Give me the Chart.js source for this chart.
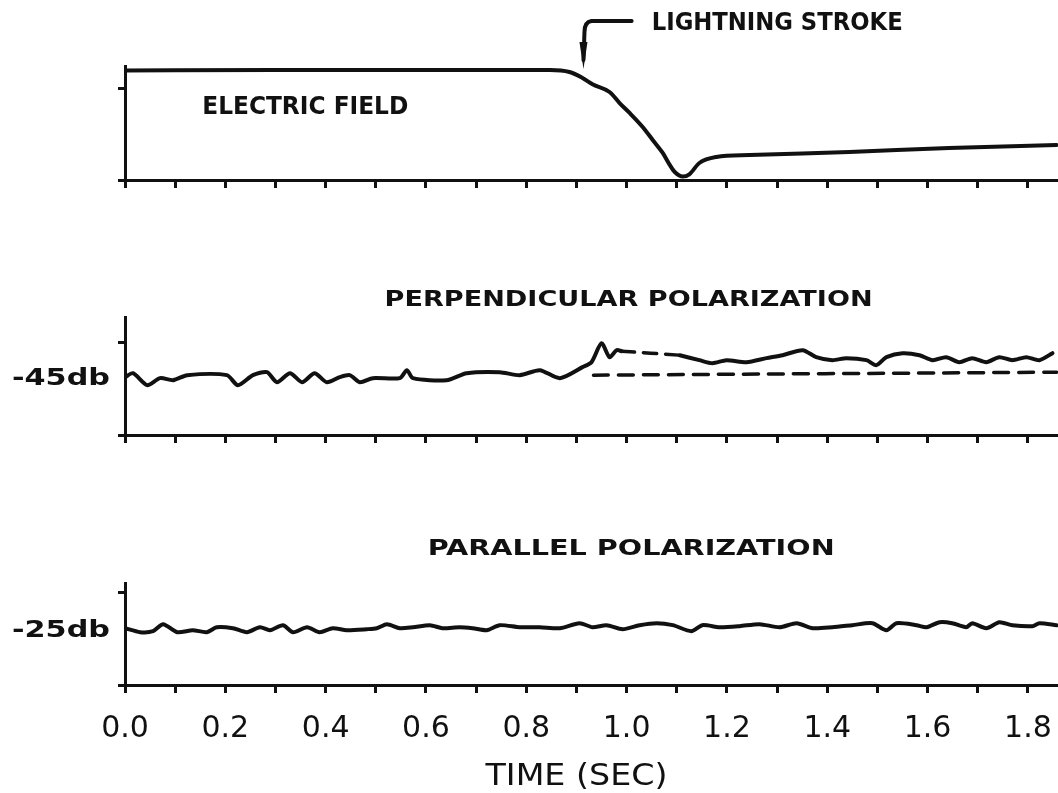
<!DOCTYPE html>
<html>
<head>
<meta charset="utf-8">
<title>Electric field and polarization</title>
<script src="https://cdn.jsdelivr.net/npm/chart.js@4.4.1/dist/chart.umd.min.js"></script>
<style>
  html, body { margin: 0; padding: 0; background: #fff; }
  #wrap { position: relative; width: 1058px; height: 793px; overflow: hidden; background: #fff; }
  canvas { position: absolute; left: 0; }
</style>
</head>
<body>
<div id="wrap">
  <canvas id="field" width="1058" height="200" style="top:0px"></canvas>
  <canvas id="perp" width="1058" height="205" style="top:250px"></canvas>
  <canvas id="para" width="1058" height="293" style="top:500px"></canvas>
</div>
<script>
// time axis (sec)
const timeTicks = [0.0, 0.1, 0.2, 0.3, 0.4, 0.5, 0.6, 0.7, 0.8, 0.9, 1.0, 1.1, 1.2, 1.3, 1.4, 1.5, 1.6, 1.7, 1.8];
const timeLabels = ['0.0', '0.2', '0.4', '0.6', '0.8', '1.0', '1.2', '1.4', '1.6', '1.8'];
const timeMax = 1.86;

// electric field, relative units (0 = axis)
const fieldTimes = [0, 0.3, 0.6, 0.847, 0.886, 0.912, 0.932, 0.966, 0.986, 1.006, 1.032, 1.052, 1.072, 1.086, 1.096, 1.112, 1.125, 1.145, 1.179, 1.245, 1.444, 1.643, 1.857];
const fieldValues = [96.0, 96.5, 96.5, 96.5, 94.7, 89.5, 84.0, 77.2, 67.5, 58.8, 46.5, 35.1, 23.7, 13.2, 7.0, 3.0, 5.0, 14.9, 20.2, 21.9, 24.6, 28.1, 30.7];
const fieldTicks = [0, 80.7];

// perpendicular polarization (db)
const perpTimes = [0, 0.016, 0.044, 0.070, 0.096, 0.124, 0.203, 0.225, 0.255, 0.283, 0.303, 0.329, 0.353, 0.378, 0.402, 0.428, 0.448, 0.468, 0.494, 0.548, 0.562, 0.574, 0.641, 0.681, 0.747, 0.787, 0.827, 0.867, 0.912, 0.930, 0.950, 0.966, 0.980, 0.990];
const perpValues = [-44.86, -44.31, -45.97, -45.0, -45.28, -44.58, -44.58, -45.97, -44.58, -44.17, -45.56, -44.31, -45.56, -44.31, -45.56, -44.86, -44.58, -45.56, -45.0, -45.0, -43.89, -45.0, -45.28, -44.31, -44.17, -44.58, -43.89, -45.0, -43.47, -42.78, -40.14, -42.08, -41.11, -41.25];
const perpGapTimes = [0.990, 1.106];
const perpGapValues = [-41.25, -41.81];
const perpLateTimes = [1.106, 1.145, 1.171, 1.199, 1.239, 1.279, 1.311, 1.351, 1.378, 1.410, 1.438, 1.478, 1.498, 1.518, 1.550, 1.584, 1.610, 1.637, 1.663, 1.689, 1.717, 1.743, 1.769, 1.797, 1.823, 1.849];
const perpLateValues = [-41.81, -42.5, -42.92, -42.5, -42.78, -42.22, -41.81, -41.11, -42.08, -42.5, -42.22, -42.5, -43.19, -42.08, -41.53, -41.81, -42.5, -42.08, -42.78, -42.22, -42.78, -42.08, -42.5, -42.08, -42.5, -41.53];
const perpBaseTimes = [0.934, 1.857];
const perpBaseValues = [-44.58, -44.17];
const perpTicks = [-52.9, -40];

// parallel polarization (db)
const paraTimes = [0, 0.030, 0.056, 0.076, 0.104, 0.135, 0.163, 0.183, 0.215, 0.243, 0.269, 0.289, 0.315, 0.335, 0.363, 0.388, 0.414, 0.442, 0.482, 0.502, 0.522, 0.548, 0.574, 0.608, 0.633, 0.667, 0.693, 0.721, 0.747, 0.787, 0.827, 0.867, 0.906, 0.932, 0.960, 0.992, 1.026, 1.060, 1.092, 1.129, 1.151, 1.185, 1.225, 1.265, 1.305, 1.339, 1.371, 1.410, 1.450, 1.490, 1.518, 1.538, 1.578, 1.598, 1.624, 1.649, 1.677, 1.689, 1.717, 1.743, 1.769, 1.809, 1.823, 1.857];
const paraValues = [-24.74, -25.26, -25.13, -24.21, -25.26, -25.0, -25.26, -24.61, -24.74, -25.26, -24.61, -25.0, -24.34, -25.26, -24.61, -25.26, -24.74, -25.0, -24.87, -24.74, -24.21, -24.74, -24.61, -24.34, -24.74, -24.61, -24.74, -25.0, -24.34, -24.61, -24.61, -24.74, -24.08, -24.61, -24.34, -24.87, -24.34, -24.08, -24.34, -25.13, -24.34, -24.61, -24.47, -24.21, -24.61, -24.08, -24.74, -24.61, -24.34, -24.08, -25.0, -24.08, -24.34, -24.61, -23.95, -24.08, -24.61, -24.08, -24.74, -23.95, -24.34, -24.47, -24.08, -24.34];
const paraTicks = [-32.2, -20];

const black = '#111';
const pts = (ts, vs) => ts.map((t, i) => ({ x: t, y: vs[i] }));

const trace = (ts, vs, dash) => ({
  data: pts(ts, vs),
  borderColor: black,
  borderWidth: dash ? 3.5 : 4,
  borderDash: dash || [],
  borderCapStyle: 'round',
  borderJoinStyle: 'round',
  tension: 0.25,
  pointRadius: 0,
  fill: false
});

// draw text stretched or squeezed to a given width
const stretchText = (ctx, text, x, y, width, align) => {
  const natural = ctx.measureText(text).width;
  const left = align === 'center' ? x - width / 2 : align === 'right' ? x - width : x;
  ctx.save();
  ctx.translate(left, y);
  ctx.scale(width / natural, 1);
  ctx.textAlign = 'left';
  ctx.fillText(text, 0, 0);
  ctx.restore();
};

const notes = draw => ({
  id: 'notes',
  afterDraw: chart => {
    const ctx = chart.ctx;
    ctx.save();
    ctx.fillStyle = black;
    ctx.strokeStyle = black;
    ctx.textBaseline = 'middle';
    draw(ctx, chart.scales.x, chart.scales.y, chart.chartArea);
    ctx.restore();
  }
});

const makeOptions = cfg => ({
  responsive: false,
  animation: false,
  layout: { padding: { top: cfg.padTop, left: 0, right: 0, bottom: 0 } },
  plugins: { legend: { display: false }, tooltip: { enabled: false }, title: { display: false } },
  scales: {
    x: {
      type: 'linear',
      min: 0,
      max: timeMax,
      afterBuildTicks: scale => { scale.ticks = timeTicks.map(v => ({ value: v })); },
      afterFit: scale => {
        scale.height = cfg.xHeight;
        scale.paddingLeft = 0;
        scale.paddingRight = 0;
      },
      border: { display: true, color: black, width: 3 },
      grid: { drawOnChartArea: false, drawTicks: true, tickLength: 8, color: black, lineWidth: 3 },
      ticks: {
        display: cfg.timeLabels,
        autoSkip: false,
        maxRotation: 0,
        padding: 18,
        color: black,
        font: { family: 'DejaVu Sans', size: 30 },
        callback: (v, i) => (i % 2 === 0 ? timeLabels[i / 2] : '')
      }
    },
    y: {
      min: cfg.yMin,
      max: cfg.yMax,
      afterBuildTicks: scale => { scale.ticks = cfg.yTicks.map(v => ({ value: v })); },
      afterFit: scale => { scale.width = 125; },
      border: { display: true, color: black, width: 3 },
      grid: { drawOnChartArea: false, drawTicks: true, tickLength: 7, lineWidth: 3, color: black },
      ticks: { display: false }
    }
  }
});

// level label at the left of the y axis
const levelLabel = (ctx, y, area, value, text) => {
  ctx.font = 'bold 23px "DejaVu Sans"';
  stretchText(ctx, text, area.left - 15, y.getPixelForValue(value) + 1, 98, 'right');
};

// electric field
new Chart(document.getElementById('field'), {
  type: 'line',
  data: { datasets: [Object.assign(trace(fieldTimes, fieldValues), { cubicInterpolationMode: 'monotone' })] },
  options: makeOptions({ padTop: 66, xHeight: 20, yMin: 0, yMax: 100, yTicks: fieldTicks, timeLabels: false }),
  plugins: [notes((ctx, x, y, area) => {
    ctx.font = 'bold 25px "DejaVu Sans"';
    stretchText(ctx, 'ELECTRIC FIELD', x.getPixelForValue(0.154), y.getPixelForValue(63.6), 206, 'left');
    ctx.font = 'bold 24px "DejaVu Sans"';
    stretchText(ctx, 'LIGHTNING STROKE', x.getPixelForValue(1.05), area.top - 42, 251, 'left');
    // arrow pointing at the stroke onset
    const ax = x.getPixelForValue(0.914);
    ctx.lineWidth = 4;
    ctx.lineCap = 'round';
    ctx.lineJoin = 'round';
    ctx.beginPath();
    ctx.moveTo(x.getPixelForValue(1.01), area.top - 45);
    ctx.lineTo(ax + 8, area.top - 45);
    ctx.quadraticCurveTo(ax + 1, area.top - 44, ax + 1, area.top - 34);
    ctx.lineTo(ax, area.top - 6);
    ctx.stroke();
    ctx.beginPath();
    ctx.moveTo(ax - 4, area.top - 24);
    ctx.lineTo(ax + 4, area.top - 24);
    ctx.lineTo(ax, area.top + 3);
    ctx.closePath();
    ctx.fill();
  })]
});

// perpendicular polarization
new Chart(document.getElementById('perp'), {
  type: 'line',
  data: {
    datasets: [
      trace(perpTimes, perpValues),
      trace(perpGapTimes, perpGapValues, [13, 9]),
      trace(perpLateTimes, perpLateValues),
      trace(perpBaseTimes, perpBaseValues, [15, 10])
    ]
  },
  options: makeOptions({ padTop: 67, xHeight: 20, yMin: -52.9, yMax: -36.5, yTicks: perpTicks, timeLabels: false }),
  plugins: [notes((ctx, x, y, area) => {
    ctx.font = 'bold 21px "DejaVu Sans"';
    stretchText(ctx, 'PERPENDICULAR POLARIZATION', x.getPixelForValue(1.004), area.top - 16, 488, 'center');
    levelLabel(ctx, y, area, -45, '-45db');
  })]
});

// parallel polarization
new Chart(document.getElementById('para'), {
  type: 'line',
  data: { datasets: [trace(paraTimes, paraValues)] },
  options: makeOptions({ padTop: 83, xHeight: 108, yMin: -32.2, yMax: -18.8, yTicks: paraTicks, timeLabels: true }),
  plugins: [notes((ctx, x, y, area) => {
    ctx.font = 'bold 21px "DejaVu Sans"';
    stretchText(ctx, 'PARALLEL POLARIZATION', x.getPixelForValue(1.009), area.top - 33, 407, 'center');
    levelLabel(ctx, y, area, -25, '-25db');
    ctx.font = '30px "DejaVu Sans"';
    stretchText(ctx, 'TIME (SEC)', x.getPixelForValue(0.90), area.bottom + 92, 182, 'center');
  })]
});
</script>
</body>
</html>
